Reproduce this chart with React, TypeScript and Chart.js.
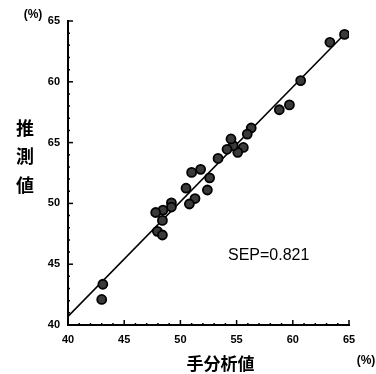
import React, { useEffect, useRef } from "react";
import { Chart, registerables } from "chart.js";

Chart.register(...registerables);

// Measured (手分析値) vs predicted (推測値) values, in %
const measuredValues = [
  64.6, 63.3, 60.7, 59.7, 58.8, 56.3, 55.95, 55.6, 55.1, 54.7, 54.5, 54.15,
  53.35, 52.6, 52.4, 51.8, 51.0, 51.3, 50.8, 50.5, 49.2, 49.2, 48.45, 47.8,
  48.4, 47.95, 48.4, 43.1, 43.0,
];
const predictedValues = [
  63.9, 63.25, 60.1, 58.1, 57.7, 56.2, 55.7, 54.6, 54.2, 54.75, 55.3, 54.45,
  53.7, 52.1, 51.1, 52.8, 52.55, 50.4, 49.95, 51.25, 50.05, 49.7, 49.45, 49.25,
  48.6, 47.7, 47.4, 43.35, 42.1,
];
// Regression line end points
const lineX = [40, 64.9];
const lineY = [40.7, 64.2];

const xTickValues = [40, 45, 50, 55, 60, 65];
const xTickLabels = ["40", "45", "50", "55", "60", "65"];
const yTickValues = [40, 45, 50, 55, 60, 65];
const yTickLabels = ["40", "45", "50", "65", "60", "65"];

const xTitle = "手分析値";
const yTitleChars = ["推", "測", "値"];
const unitLabel = "(%)";
const sepText = "SEP=0.821";

const CJK_FONT = "bold 18px 'Noto Sans CJK JP', sans-serif";

const decorPlugin = {
  id: "decor",
  afterDraw(chart: any) {
    const ctx = chart.ctx;
    const xs = chart.scales.x;
    const ys = chart.scales.y;
    const area = chart.chartArea;
    ctx.save();
    ctx.strokeStyle = "#000";
    // inward ticks
    ctx.lineWidth = 1.5;
    for (let v = 40; v <= 65; v += 1) {
      const major = v % 5 === 0;
      const len = major ? 5 : 2;
      const px = xs.getPixelForValue(v);
      ctx.beginPath();
      ctx.moveTo(px, area.bottom);
      ctx.lineTo(px, area.bottom - len);
      ctx.stroke();
      const py = ys.getPixelForValue(v);
      ctx.beginPath();
      ctx.moveTo(area.left, py);
      ctx.lineTo(area.left + len, py);
      ctx.stroke();
    }
    // titles
    ctx.fillStyle = "#000";
    ctx.font = CJK_FONT;
    ctx.textAlign = "center";
    ctx.textBaseline = "middle";
    yTitleChars.forEach((c, i) => {
      ctx.fillText(c, 25, 128 + i * 28.5);
    });
    ctx.font = "bold 17px 'Noto Sans CJK JP', sans-serif";
    ctx.fillText(xTitle, (area.left + area.right) / 2 + 12, 364);
    ctx.font = "bold 12px 'Liberation Sans', Arial, sans-serif";
    ctx.fillText(unitLabel, 33, 15);
    ctx.fillText(unitLabel, 366, 361);
    ctx.font = "16px 'Liberation Sans', Arial, sans-serif";
    ctx.textAlign = "left";
    ctx.fillText(sepText, 228, 256);
    ctx.restore();
  },
};

export default function App() {
  const ref = useRef<HTMLCanvasElement>(null);
  useEffect(() => {
    document.body.style.margin = "0";
    const chart = new Chart(ref.current as HTMLCanvasElement, {
      type: "scatter",
      data: {
        datasets: [
          {
            type: "line",
            data: lineX.map((x, i) => ({ x, y: lineY[i] })),
            borderColor: "#000",
            borderWidth: 1.6,
            pointRadius: 0,
            fill: false,
            order: 2,
          },
          {
            type: "scatter",
            data: measuredValues.map((x, i) => ({ x, y: predictedValues[i] })),
            backgroundColor: "#3a3a3a",
            borderColor: "#000",
            borderWidth: 1.8,
            pointRadius: 4.5,
            order: 1,
          },
        ],
      },
      options: {
        responsive: false,
        animation: false,
        layout: { padding: { left: 0, top: 21, right: 27, bottom: 0 } },
        plugins: { legend: { display: false }, tooltip: { enabled: false } },
        scales: {
          x: {
            type: "linear",
            min: 40,
            max: 65,
            afterBuildTicks: (s: any) => {
              s.ticks = xTickValues.map((v) => ({ value: v }));
            },
            afterFit: (s: any) => {
              s.height = 49;
            },
            grid: { display: false, drawTicks: false },
            border: { display: true, color: "#000", width: 2 },
            ticks: {
              padding: 8,
              color: "#000",
              font: { family: "'Liberation Sans', Arial, sans-serif", size: 11, weight: "bold" },
              callback: (v: any) => xTickLabels[xTickValues.indexOf(Number(v))] ?? "",
              maxRotation: 0,
            },
          },
          y: {
            type: "linear",
            min: 40,
            max: 65,
            afterBuildTicks: (s: any) => {
              s.ticks = yTickValues.map((v) => ({ value: v }));
            },
            afterFit: (s: any) => {
              s.width = 68;
            },
            grid: { display: false, drawTicks: false },
            border: { display: true, color: "#000", width: 2 },
            ticks: {
              padding: 8,
              color: "#000",
              font: { family: "'Liberation Sans', Arial, sans-serif", size: 11, weight: "bold" },
              callback: (v: any) => yTickLabels[yTickValues.indexOf(Number(v))] ?? "",
            },
          },
        },
      },
      plugins: [decorPlugin],
    } as any);
    return () => chart.destroy();
  }, []);
  return (
    <div style={{ position: "fixed", left: 0, top: 0, width: 376, height: 374, background: "#fff" }}>
      <canvas ref={ref} width={376} height={374} />
    </div>
  );
}
